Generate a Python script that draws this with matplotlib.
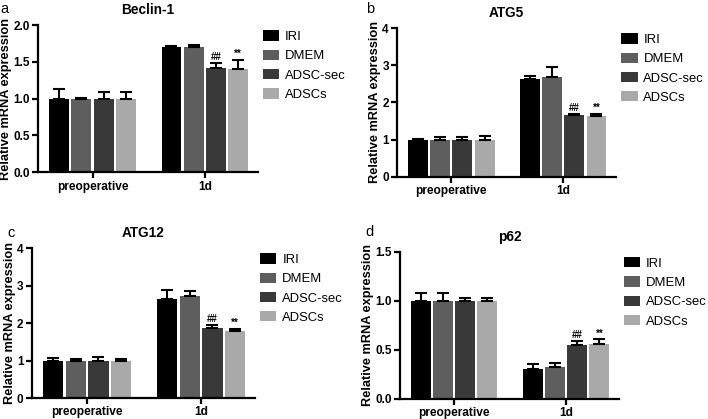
import numpy as np
import matplotlib.pyplot as plt

plt.rcParams['font.family'] = ['Liberation Sans', 'DejaVu Sans']

groups = ['IRI', 'DMEM', 'ADSC-sec', 'ADSCs']
colors = ['#000000', '#5e5e5e', '#393939', '#a9a9a9']
timepoints = ['preoperative', '1d']

# means per group: [preoperative, 1d]
beclin_mean = [[1.0, 1.70], [1.0, 1.70], [1.0, 1.42], [1.0, 1.40]]
beclin_err = [[0.13, 0.02], [0.01, 0.03], [0.09, 0.07], [0.09, 0.13]]
atg5_mean = [[1.0, 2.62], [1.0, 2.68], [1.0, 1.65], [1.0, 1.63]]
atg5_err = [[0.03, 0.08], [0.07, 0.28], [0.06, 0.05], [0.09, 0.07]]
atg12_mean = [[1.0, 2.65], [1.0, 2.72], [1.0, 1.86], [1.0, 1.80]]
atg12_err = [[0.07, 0.22], [0.04, 0.13], [0.09, 0.10], [0.03, 0.04]]
p62_mean = [[1.0, 0.30], [1.0, 0.33], [1.0, 0.55], [1.0, 0.56]]
p62_err = [[0.08, 0.06], [0.08, 0.04], [0.03, 0.04], [0.03, 0.05]]

marks = ['', '', '##', '**']

# letter, title, means, errors, ymax, yticks, tick format, axes rect, letter pos (px)
panels = [
    ('a', 'Beclin-1', beclin_mean, beclin_err, 2.0, [0, 0.5, 1.0, 1.5, 2.0], '%.1f',
     [0.054, 0.589, 0.310, 0.351], (4, 9)),
    ('b', 'ATG5', atg5_mean, atg5_err, 4, [0, 1, 2, 3, 4], '%d',
     [0.561, 0.578, 0.309, 0.355], (370, 9)),
    ('c', 'ATG12', atg12_mean, atg12_err, 4, [0, 1, 2, 3, 4], '%d',
     [0.045, 0.050, 0.315, 0.358], (11, 233)),
    ('d', 'p62', p62_mean, p62_err, 1.5, [0, 0.5, 1.0, 1.5], '%.1f',
     [0.565, 0.048, 0.309, 0.351], (370, 232)),
]

W, H = 708, 419
fig = plt.figure(figsize=(W / 100, H / 100), dpi=100)

slot = 0.198
width = 0.178
x = np.arange(len(timepoints))

for letter, title, mean, err, ymax, yticks, fmt, rect, lpos in panels:
    ax = fig.add_axes(rect)
    handles = []
    for i, g in enumerate(groups):
        pos = x + (i - 1.5) * slot
        h = ax.bar(pos, mean[i], width, color=colors[i], label=g,
                   yerr=[np.zeros(2), err[i]], capsize=4,
                   error_kw=dict(elinewidth=1.5, capthick=1.5, ecolor='black'))
        handles.append(h)
        if marks[i]:
            top = mean[i][1] + err[i][1]
            ax.text(pos[1], top + ymax * 0.005, marks[i], ha='center', va='bottom',
                    fontsize=7, fontweight='bold')
    ax.set_xlim(-0.484, 1.471)
    ax.set_ylim(0, ymax)
    ax.set_yticks(yticks)
    ax.set_yticklabels([fmt % t for t in yticks], fontweight='bold', fontsize=8.5)
    ax.set_xticks(x)
    ax.set_xticklabels(timepoints, fontweight='bold', fontsize=8.6)
    ax.spines['top'].set_visible(False)
    ax.spines['right'].set_visible(False)
    ax.spines['left'].set_linewidth(1.6)
    ax.spines['bottom'].set_linewidth(1.6)
    ax.tick_params(width=1.6, length=4, pad=2)
    ax.set_ylabel('Relative mRNA expression', fontweight='bold', fontsize=9.2, labelpad=1)
    ax.set_title(title, fontweight='bold', fontsize=9.8, pad=8)
    ax.legend(handles=handles, loc='upper left', bbox_to_anchor=(1.0, 1.0),
              frameon=False, fontsize=9.4, handlelength=1.25, handleheight=0.85,
              labelspacing=0.5, handletextpad=0.45, borderaxespad=0.0)
    fig.text(lpos[0] / W, 1 - lpos[1] / H, letter, fontsize=10.5, ha='center', va='center')

fig.savefig('out.png', dpi=100)
